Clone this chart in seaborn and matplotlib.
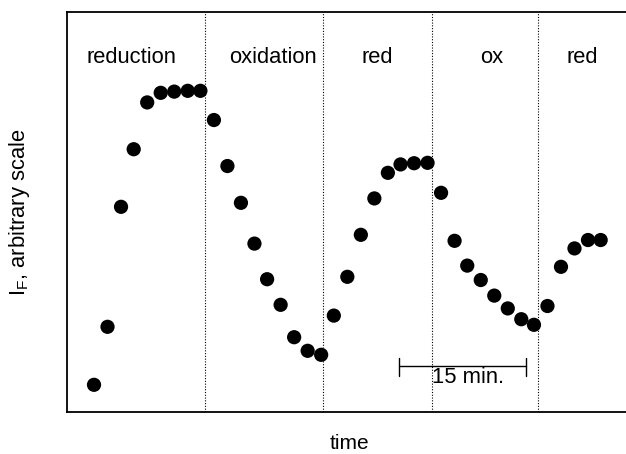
import pandas as pd
import numpy as np
import seaborn as sns
import matplotlib.pyplot as plt

# time of each sample (min) and fluorescence intensity (arbitrary units)
time_min = [0.0, 1.6, 3.2, 4.7, 6.3, 7.9, 9.5, 11.1, 12.6, 14.2,
            15.8, 17.4, 19.0, 20.5, 22.1, 23.7, 25.3, 26.9, 28.4, 30.0,
            31.6, 33.2, 34.8, 36.3, 37.9, 39.5, 41.1, 42.7, 44.2, 45.8,
            47.4, 49.0, 50.6, 52.1, 53.7, 55.3, 56.9, 58.5, 60.0]
intensity = [6.8, 21.3, 51.3, 65.7, 77.4, 79.8, 80.1, 80.3, 80.3, 73.0,
             61.5, 52.3, 42.1, 33.2, 26.8, 18.7, 15.3, 14.3, 24.1, 33.8,
             44.3, 53.4, 59.8, 61.9, 62.2, 62.3, 54.8, 42.8, 36.6, 33.0,
             29.1, 25.9, 23.2, 21.8, 26.5, 36.3, 40.9, 43.0, 43.0]

# switching times between reducing / oxidizing conditions
switch_times = [13.2, 27.1, 40.0, 52.6]
phase_labels = ['reduction', 'oxidation', 'red', 'ox', 'red']
phase_label_x = [4.4, 21.2, 33.6, 47.1, 57.8]

# 15 min scale bar
bar_start, bar_len = 36.1, 15.0

df = pd.DataFrame({'time': time_min, 'IF': intensity})

sns.set_style('white')
plt.rcParams['font.family'] = ['Liberation Sans', 'DejaVu Sans']
plt.rcParams['mathtext.fontset'] = 'custom'
plt.rcParams['mathtext.rm'] = 'Liberation Sans'
plt.rcParams['text.color'] = 'black'
plt.rcParams['axes.labelcolor'] = 'black'

fs = 15.8

fig = plt.figure(figsize=(6.26, 4.54), dpi=100)
ax = fig.add_axes([0.107, 0.0925, 0.893, 0.881])

sns.scatterplot(data=df, x='time', y='IF', color='black', s=105,
                edgecolor='none', linewidth=0, ax=ax, legend=False)

for t in switch_times:
    ax.axvline(t, color='black', linestyle=(0, (1, 1.5)), linewidth=0.8)

for lab, x in zip(phase_labels, phase_label_x):
    ax.text(x, 88.75, lab, ha='center', va='center', fontsize=fs, color='black')

# scale bar
ax.plot([bar_start, bar_start + bar_len], [11.5, 11.5], color='black', lw=1)
for x in (bar_start, bar_start + bar_len):
    ax.plot([x, x], [9.0, 13.5], color='black', lw=1)
ax.text(40.0, 8.6, '15 min.', ha='left', va='center', fontsize=fs, color='black')

ax.set_xlim(-3.2, 63.0)
ax.set_ylim(0, 100)
ax.set_xticks([])
ax.set_yticks([])
ax.set_xlabel('time', fontsize=15, color='black', va='baseline')
ax.set_ylabel(r'I$_\mathregular{F}$, arbitrary scale', fontsize=fs, color='black')
ax.xaxis.set_label_coords(0.505, -0.0925)
ax.yaxis.set_label_coords(-0.062, 0.5)

for side in ['left', 'top', 'bottom']:
    ax.spines[side].set_color('black')
    ax.spines[side].set_linewidth(1.3)
ax.spines['right'].set_visible(False)

fig.savefig('out.png', dpi=100)
